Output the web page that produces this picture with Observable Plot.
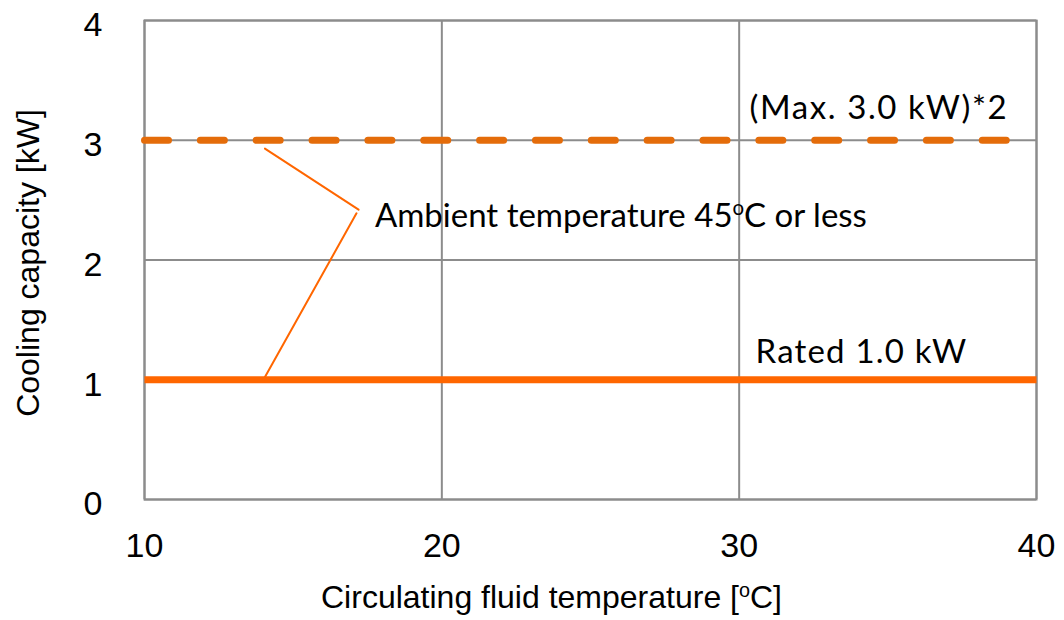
<!DOCTYPE html>
<html>
<head>
<meta charset="utf-8">
<script src="https://cdn.jsdelivr.net/npm/d3@7"></script>
<script src="https://cdn.jsdelivr.net/npm/@observablehq/plot@0.6"></script>
<style>
  html, body { margin: 0; padding: 0; background: #fff; }
  #chart svg { display: block; }
</style>
</head>
<body>
<div id="chart"></div>
<script>
// ---- data ----
const xDomain = [10, 40];
const yDomain = [0, 4];
const xTicks = [10, 20, 30, 40];
const yTicks = [0, 1, 2, 3, 4];

const ratedX = [10, 40];
const ratedY = [1.0, 1.0];
const maxX = [10, 40];
const maxY = [3.0, 3.0];

// leader lines for the annotation (data coordinates)
const leaderUpperX = [14.05, 17.2];
const leaderUpperY = [2.93, 2.42];
const leaderLowerX = [17.13, 14.0];
const leaderLowerY = [2.39, 1.0];

const labelText = ["(Max. 3.0 kW)*2", "Rated 1.0 kW", "Ambient temperature 45oC or less"];
const labelX = [30.35, 30.55, 17.75];
const labelY = [3.265, 1.225, 2.36];
const labelSpacing = [1.6, 1.2, 0];
const xTitle = "Circulating fluid temperature [oC]";
const yTitle = "Cooling capacity [kW]";

const rated = ratedX.map((x, i) => ({x, y: ratedY[i]}));
const maxLine = maxX.map((x, i) => ({x, y: maxY[i]}));
const leaderUpper = leaderUpperX.map((x, i) => ({x, y: leaderUpperY[i]}));
const leaderLower = leaderLowerX.map((x, i) => ({x, y: leaderLowerY[i]}));
const labels = labelText.map((text, i) => ({text, x: labelX[i], y: labelY[i], ls: labelSpacing[i]}));

const grey = "#8c8c8c";
const annFont = "Lato, 'Open Sans', sans-serif";

const chart = Plot.plot({
  width: 1064,
  height: 620,
  marginLeft: 144,
  marginRight: 28,
  marginTop: 20,
  marginBottom: 121,
  style: {fontFamily: "'Liberation Sans', Arial, sans-serif", background: "#fff"},
  x: {domain: xDomain, ticks: xTicks},
  y: {domain: yDomain, ticks: yTicks},
  marks: [
    Plot.gridX(xTicks, {stroke: grey, strokeOpacity: 1, strokeWidth: 2}),
    Plot.gridY(yTicks, {stroke: grey, strokeOpacity: 1, strokeWidth: 2}),
    Plot.frame({stroke: grey, strokeWidth: 2}),
    Plot.axisX({ticks: xTicks, tickSize: 0, tickPadding: 33, fontSize: 34, label: null, tickFormat: d => String(d)}),
    Plot.axisY({ticks: yTicks, tickSize: 0, tickPadding: 42, fontSize: 34, dy: 5, label: null, tickFormat: d => String(d)}),
    Plot.text([xTitle], {frameAnchor: "bottom", textAnchor: "middle", dx: -39, dy: 108, fontSize: 32, fill: "#000"}),
    Plot.text([yTitle], {frameAnchor: "left", textAnchor: "middle", rotate: -90, dx: -116, dy: 3, fontSize: 32, fill: "#000"}),
    Plot.line(maxLine, {x: "x", y: "y", stroke: "#e46c0a", strokeWidth: 7, strokeLinecap: "round", strokeDasharray: "24,31.85"}),
    Plot.line(rated, {x: "x", y: "y", stroke: "#ff6600", strokeWidth: 7, strokeLinecap: "butt"}),
    Plot.line(leaderUpper, {x: "x", y: "y", stroke: "#ff6600", strokeWidth: 2}),
    Plot.line(leaderLower, {x: "x", y: "y", stroke: "#ff6600", strokeWidth: 2}),
    Plot.text(labels, {x: "x", y: "y", text: "text", textAnchor: "start", fontSize: 33, fontFamily: annFont, fill: "#000"})
  ]
});

// letter spacing for annotation labels
d3.select(chart).selectAll("text").each(function() {
  const t = this.textContent;
  const lab = labels.find(l => l.text === t);
  if (lab && lab.ls) this.setAttribute("letter-spacing", lab.ls);
});

// superscript the degree "o"
d3.select(chart).selectAll("text").each(function() {
  const el = d3.select(this);
  const tspans = el.selectAll("tspan");
  const nodes = tspans.empty() ? [this] : tspans.nodes();
  nodes.forEach(n => {
    const t = n.textContent;
    const i = t.indexOf("oC");
    if (i >= 0) {
      const before = t.slice(0, i), after = t.slice(i + 1);
      n.textContent = "";
      const s = d3.select(n);
      s.append("tspan").text(before);
      s.append("tspan").attr("font-size", "0.62em").attr("baseline-shift", "super").text("o");
      s.append("tspan").text(after);
    }
  });
});

document.getElementById("chart").appendChild(chart);
</script>
</body>
</html>
